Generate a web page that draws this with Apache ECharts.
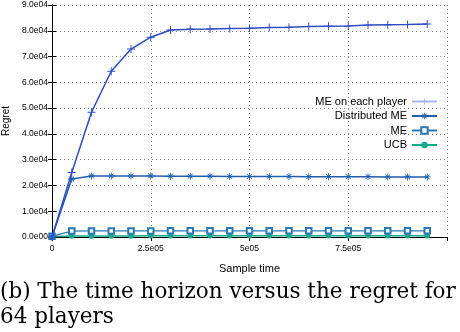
<!DOCTYPE html>
<html>
<head>
<meta charset="utf-8">
<script src="https://cdn.jsdelivr.net/npm/echarts@6/dist/echarts.min.js"></script>
<style>
  html, body { margin: 0; padding: 0; background: #fff; }
  #chart { width: 460px; height: 332px; }
</style>
</head>
<body>
<div id="chart"></div>
<script>
// sample times (x) and the regret of each method
const sampleTimes = [0, 5e4, 1e5, 1.5e5, 2e5, 2.5e5, 3e5, 3.5e5, 4e5, 4.5e5,
  5e5, 5.5e5, 6e5, 6.5e5, 7e5, 7.5e5, 8e5, 8.5e5, 9e5, 9.5e5]
const meEachPlayer = [0, 25000, 48400, 64300, 72900, 77500, 80300, 80600, 80700, 80900,
  81000, 81300, 81400, 81700, 81800, 81900, 82200, 82300, 82400, 82600]
const distributedME = [0, 22500, 23700, 23700, 23700, 23700, 23600, 23600, 23600, 23500,
  23500, 23500, 23500, 23400, 23400, 23400, 23400, 23300, 23300, 23300]
const meRegret = [300, 2300, 2350, 2350, 2350, 2350, 2400, 2400, 2400, 2400,
  2400, 2400, 2400, 2400, 2400, 2400, 2400, 2400, 2400, 2400]
const ucbRegret = [200, 350, 400, 420, 430, 440, 450, 460, 470, 480,
  480, 490, 490, 500, 500, 500, 510, 510, 510, 520]
const seriesNames = ['ME on each player', 'Distributed ME', 'ME', 'UCB']

const plusPath = 'path://M0,4.4H10V5.6H0Z M4.4,0H5.6V10H4.4Z'
const starPath = 'path://M0,4.4H10V5.6H0Z M4.4,0H5.6V10H4.4Z M1.2,2L2,1.2L8.8,8L8,8.8Z M8,1.2L8.8,2L2,8.8L1.2,8Z'

function pairs(ys) {
  return sampleTimes.map((x, i) => [x, ys[i]])
}

function yLabel(v) {
  if (v === 0) return '0.0e00'
  return (v / 1e4).toFixed(1) + 'e04'
}
function xLabel(v) {
  if (v === 0) return '0'
  return (v / 1e5) + 'e05'
}

const tickFont = { fontFamily: 'Liberation Sans', fontSize: 8.5, color: '#000' }

const myChart = echarts.init(document.getElementById('chart'))
let option = {
  animation: false,
  backgroundColor: '#fff',
  textStyle: { fontFamily: 'Liberation Sans' },
  grid: { left: 52, right: 13, top: 5, bottom: 95, outerBoundsMode: 'none' },
  legend: {
    orient: 'vertical',
    right: 22,
    top: 96,
    align: 'right',
    itemWidth: 25,
    itemHeight: 8,
    itemGap: 3.5,
    padding: 0,
    textStyle: { fontSize: 11, color: '#000', fontFamily: 'Liberation Sans', padding: [0, 0, 0, 0] },
    data: [
      { name: seriesNames[0], itemStyle: { color: '#9fb0e8' }, lineStyle: { color: '#a9b8ec' } },
      { name: seriesNames[1] },
      { name: seriesNames[2] },
      { name: seriesNames[3] }
    ]
  },
  xAxis: [{
    type: 'value',
    min: 0,
    max: 1e6,
    interval: 2.5e5,
    name: 'Sample time',
    nameLocation: 'middle',
    nameGap: 26,
    nameTextStyle: { fontSize: 11, color: '#000' },
    axisLine: { lineStyle: { color: '#000', width: 1 } },
    axisTick: { inside: true, length: 4, lineStyle: { color: '#000' } },
    axisLabel: Object.assign({ formatter: xLabel, margin: 7, showMaxLabel: false }, tickFont),
    splitLine: { show: true, lineStyle: { color: '#888', type: [1, 3], width: 1 } }
  }, {
    type: 'value',
    position: 'top',
    min: 0,
    max: 1e6,
    interval: 2.5e5,
    axisLine: { show: true, lineStyle: { color: '#000', width: 1 } },
    axisTick: { inside: true, length: 4, lineStyle: { color: '#000' } },
    axisLabel: { show: false },
    splitLine: { show: false }
  }],
  yAxis: [{
    type: 'value',
    min: 0,
    max: 90000,
    interval: 10000,
    name: 'Regret',
    nameLocation: 'middle',
    nameGap: 36,
    nameTextStyle: { fontSize: 10, color: '#000' },
    axisLine: { show: true, lineStyle: { color: '#000', width: 1 } },
    axisTick: { show: true, inside: true, length: 4, lineStyle: { color: '#000' } },
    axisLabel: Object.assign({ formatter: yLabel, margin: 4 }, tickFont),
    splitLine: { show: true, lineStyle: { color: '#888', type: [1, 3], width: 1 } }
  }, {
    type: 'value',
    position: 'right',
    min: 0,
    max: 90000,
    interval: 10000,
    axisLine: { show: true, lineStyle: { color: '#000', width: 1 } },
    axisTick: { show: true, inside: true, length: 4, lineStyle: { color: '#000' } },
    axisLabel: { show: false },
    splitLine: { show: false }
  }],
  series: [{
    name: seriesNames[0],
    type: 'line',
    data: pairs(meEachPlayer),
    color: '#2f4cc2',
    symbol: plusPath,
    symbolSize: 8,
    showAllSymbol: true,
    lineStyle: { width: 1.5 },
    z: 5
  }, {
    name: seriesNames[1],
    type: 'line',
    data: pairs(distributedME),
    color: '#1f5fae',
    symbol: starPath,
    symbolSize: 7,
    showAllSymbol: true,
    lineStyle: { width: 1.5 },
    z: 4
  }, {
    name: seriesNames[2],
    type: 'line',
    data: pairs(meRegret),
    color: '#2a78b4',
    symbol: 'emptyRect',
    symbolSize: 5.5,
    showAllSymbol: true,
    itemStyle: { borderWidth: 1.2 },
    lineStyle: { width: 1.3 },
    z: 3
  }, {
    name: seriesNames[3],
    type: 'line',
    data: pairs(ucbRegret),
    color: '#14a98a',
    symbol: 'circle',
    symbolSize: 5.5,
    showAllSymbol: true,
    lineStyle: { width: 1.5 },
    z: 2
  }],
  graphic: [{
    type: 'text',
    left: 0,
    top: 280,
    style: {
      text: '(b) The time horizon versus the regret for\n64 players',
      font: '21.5px "DejaVu Serif"',
      lineHeight: 25,
      fill: '#000'
    }
  }]
}
myChart.setOption(option)
</script>
</body>
</html>
